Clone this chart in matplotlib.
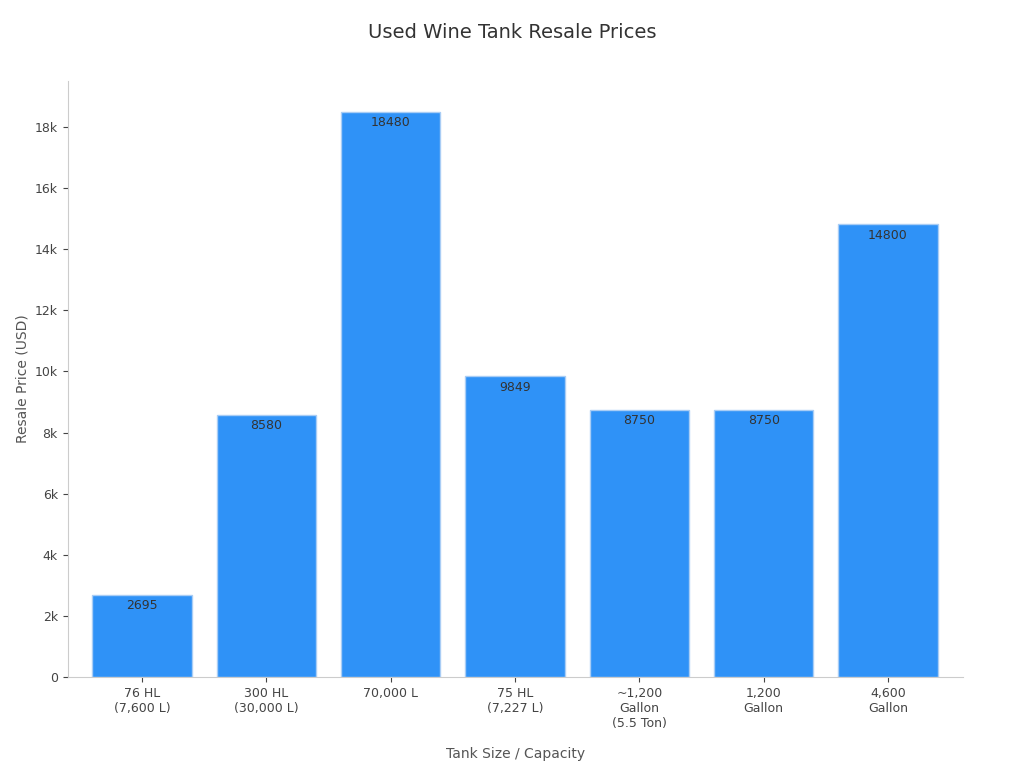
import matplotlib
matplotlib.use("Agg")
import matplotlib.pyplot as plt
from matplotlib.ticker import FuncFormatter

categories = ["76 HL\n(7,600 L)", "300 HL\n(30,000 L)", "70,000 L", "75 HL\n(7,227 L)",
              "~1,200\nGallon\n(5.5 Ton)", "1,200\nGallon", "4,600\nGallon"]
prices = [2695, 8580, 18480, 9849, 8750, 8750, 14800]

fig, ax = plt.subplots(figsize=(10.24, 7.68), dpi=100)
fig.subplots_adjust(left=0.066, right=0.94, top=0.895, bottom=0.118)
x = range(len(categories))
ax.bar(x, prices, width=0.8, color="#2f92f7", edgecolor="#a9cdf5", linewidth=1)
for i, v in zip(x, prices):
    ax.text(i, v - 150, str(v), ha="center", va="top", fontsize=9, color="#333333")
ax.set_xticks(list(x))
ax.set_xticklabels(categories, fontsize=9, color="#222222")
ax.set_xlim(-0.6, 6.6)
ax.set_ylim(0, 19500)
ax.set_yticks(range(0, 18001, 2000))
ax.yaxis.set_major_formatter(FuncFormatter(lambda v, p: "0" if v == 0 else f"{int(v/1000)}k"))
ax.tick_params(axis="y", labelsize=9, colors="#222222")
ax.tick_params(colors="#444444")
for s in ["top", "right"]:
    ax.spines[s].set_visible(False)
for s in ["left", "bottom"]:
    ax.spines[s].set_color("#cccccc")
ax.set_xlabel("Tank Size / Capacity", fontsize=10, color="#555555", labelpad=12)
ax.set_ylabel("Resale Price (USD)", fontsize=10, color="#555555")
fig.suptitle("Used Wine Tank Resale Prices", fontsize=14, color="#333333", y=0.97)
fig.savefig("out.png")
